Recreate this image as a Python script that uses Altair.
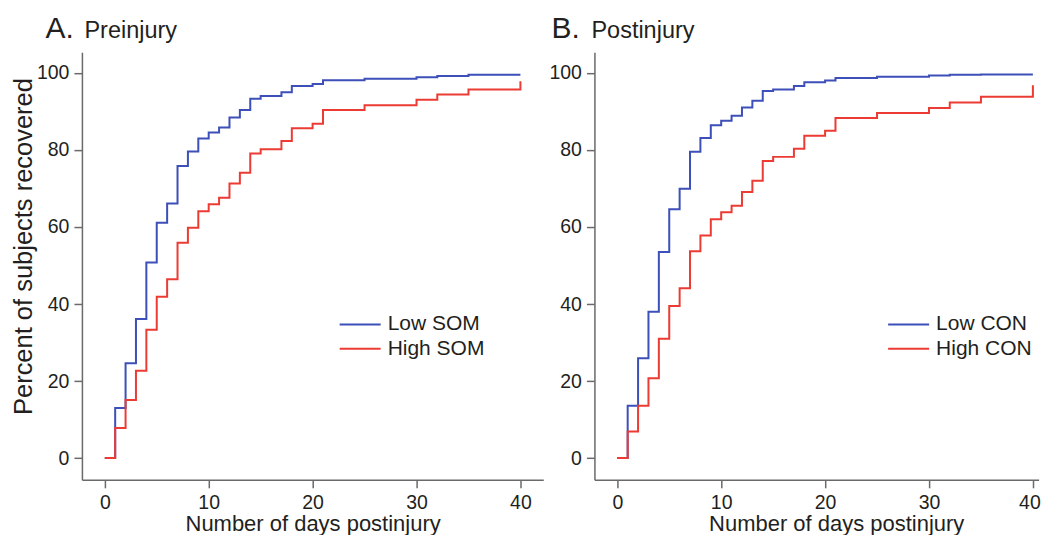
import altair as alt
import pandas as pd

# ---- data ----
days = [0, 1, 2, 3, 4, 5, 6, 7, 8, 9, 10, 11, 12, 13, 14, 15, 17, 18, 20, 21, 25, 30, 32, 35, 40]

pre_low = [0, 13.0, 24.6, 36.1, 50.8, 61.1, 66.1, 75.8, 79.6, 83.0, 84.5, 85.8, 88.4, 90.4,
           93.3, 94.0, 95.0, 96.6, 97.1, 98.1, 98.5, 98.9, 99.2, 99.5, 99.5]
pre_high = [0, 7.8, 15.1, 22.7, 33.3, 41.9, 46.4, 55.9, 59.8, 64.1, 65.9, 67.6, 71.3, 74.1,
            79.1, 80.2, 82.3, 85.6, 86.8, 90.4, 91.6, 93.0, 94.4, 95.7, 97.8]

post_low = [0, 13.6, 25.9, 38.0, 53.5, 64.6, 69.9, 79.5, 83.1, 86.4, 87.6, 88.9, 91.0, 92.8,
            95.3, 95.7, 96.6, 97.6, 98.0, 98.7, 99.0, 99.3, 99.5, 99.6, 99.6]
post_high = [0, 6.9, 13.6, 20.7, 31.0, 39.5, 44.1, 53.7, 57.8, 62.0, 63.8, 65.5, 69.1, 72.0,
             77.1, 78.2, 80.3, 83.7, 85.0, 88.3, 89.6, 90.9, 92.3, 93.8, 96.8]

panel_letters = ["A.", "B."]
panel_names = ["Preinjury", "Postinjury"]
groups_pre = ["Low SOM", "High SOM"]
groups_post = ["Low CON", "High CON"]

x_ticks = [0, 10, 20, 30, 40]
y_ticks = [0, 20, 40, 60, 80, 100]
x_title = "Number of days postinjury"
y_title = "Percent of subjects recovered"

BLUE = "#3d4fb8"
RED = "#ec3b33"
INK = "#231f20"
AXIS = "#6a6a6a"
FONT = "Liberation Sans"

H = 428
Y_DOM = [-5.63, 105.37]
PX_PER_DAY = 10.4


def panel(low, high, names, letter, name, first, legend_x, x_dom, x_title_x=None):
    width = round((x_dom[1] - x_dom[0]) * PX_PER_DAY, 1)
    df = pd.DataFrame({
        "day": days * 2,
        "pct": low + high,
        "group": [names[0]] * len(days) + [names[1]] * len(days),
    })
    xaxis = dict(values=x_ticks, title=x_title, tickSize=8, labelPadding=6,
                 titleFontSize=22, titleBaseline="top", titleY=34)
    if x_title_x is not None:
        xaxis["titleX"] = x_title_x
    if not first:
        xaxis["labelOffset"] = alt.condition("datum.value == 40", alt.value(-3.5), alt.value(0))
    yaxis = dict(values=y_ticks, tickSize=8, labelPadding=5)
    if first:
        yaxis.update(title=y_title, titleFontSize=25.5, titlePadding=0, titleY=194)
    else:
        yaxis.update(title=None)
    x = alt.X("day:Q", scale=alt.Scale(domain=x_dom, nice=False, zero=False),
              axis=alt.Axis(**xaxis))
    y = alt.Y("pct:Q", scale=alt.Scale(domain=Y_DOM, nice=False, zero=False),
              axis=alt.Axis(**yaxis))
    color = alt.Color(
        "group:N",
        scale=alt.Scale(domain=names, range=[BLUE, RED]),
        sort=names,
        legend=alt.Legend(orient="none", legendX=legend_x + 10, legendY=262, title=None,
                          symbolType="M-2.28,0H2.28", symbolSize=324, symbolStrokeWidth=2,
                          labelFontSize=21, labelOffset=17, rowPadding=2.4, padding=0,
                          labelColor=INK, labelFont=FONT),
    )
    base = alt.Chart(df)
    low_line = base.transform_filter(alt.datum.group == names[0]).mark_line(
        interpolate="step-after", strokeWidth=2).encode(x=x, y=y, color=color)
    high_line = base.transform_filter(alt.datum.group == names[1]).mark_line(
        interpolate="step-after", strokeWidth=2).encode(x=x, y=y, color=color)
    t1 = alt.Chart(pd.DataFrame({"t": [letter]})).mark_text(
        align="left", baseline="alphabetic", fontSize=30, font=FONT, color=INK
    ).encode(x=alt.value(-36.5 if first else -43), y=alt.value(-14.5), text="t:N")
    t2 = alt.Chart(pd.DataFrame({"t": [name]})).mark_text(
        align="left", baseline="alphabetic", fontSize=23.5, font=FONT, color=INK
    ).encode(x=alt.value(2.5 if first else -3), y=alt.value(-14.5), text="t:N")
    return alt.layer(low_line, high_line, t1, t2).properties(width=width, height=H)


pa = panel(pre_low, pre_high, groups_pre, panel_letters[0], panel_names[0], True, 258,
           [-2.2, 42.2])
pb = panel(post_low, post_high, groups_post, panel_letters[1], panel_names[1], False, 294,
           [-2.2, 40.55], x_title_x=242)

chart = alt.hconcat(pa, pb, spacing=5).resolve_scale(color="independent").properties(
    padding={"left": 3, "top": 5, "right": 0, "bottom": 0}
).configure_view(stroke=None).configure_axis(
    grid=False, domainColor=AXIS, tickColor=AXIS, domainWidth=1.5, tickWidth=1.5,
    labelFont=FONT, labelFontSize=19.5, labelColor=INK,
    titleFont=FONT, titleFontWeight="normal", titleColor=INK,
)

chart.save("out.html", embed_options={"renderer": "svg", "actions": False})
